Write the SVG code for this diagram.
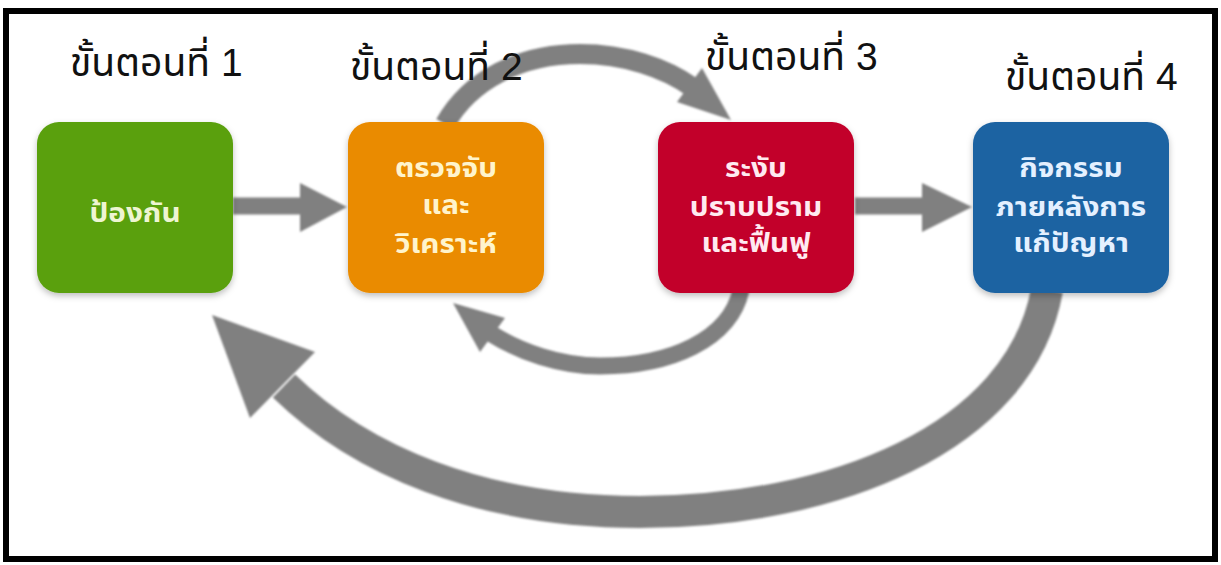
<svg xmlns="http://www.w3.org/2000/svg" width="1221" height="565" viewBox="0 0 1221 565">
<style>
.title{font-family:"Liberation Sans","Noto Sans Thai","Noto Sans Thai UI","Noto Sans",sans-serif;font-size:39px;fill:#111}
.lbl{font-family:"Liberation Sans","Noto Sans Thai","Noto Sans Thai UI","Noto Sans",sans-serif;font-size:27px;font-weight:bold;text-anchor:middle}
.shaft{fill:none;stroke:#808080;stroke-linecap:butt}
.head{fill:#808080}
</style>
<defs>
<filter id="sh" x="-10%" y="-10%" width="120%" height="125%">
<feDropShadow dx="0" dy="3" stdDeviation="3" flood-color="#000" flood-opacity="0.25"/>
</filter>
<filter id="blur" x="-5%" y="-5%" width="110%" height="115%">
<feGaussianBlur stdDeviation="0.8"/>
</filter>
</defs>
<rect x="0" y="0" width="1221" height="565" fill="#fff"/>
<rect x="6" y="11" width="1209" height="548" fill="none" stroke="#000" stroke-width="6"/>

<g id="connectors" filter="url(#blur)">
<path class="shaft" d="M233 206 H302" stroke-width="17"/>
<polygon class="head" points="300,183 347,207 300,232"/>
<path class="shaft" d="M855 206 H924" stroke-width="17"/>
<polygon class="head" points="922,183 972,207 922,232"/>
<path class="shaft" d="M445 124 C470 80 520 54 580 54 C625 54 665 68 692 87" stroke-width="20"/>
<polygon class="head" points="677,102 702,68 731,120"/>
<path class="shaft" d="M741 290 C730 340 670 366 600 366 C560 366 520 352 490 333" stroke-width="17"/>
<polygon class="head" points="453,303 505,318 480,352"/>
<path class="shaft" d="M1047 290 C1020 440 830 512 640 512 C480 512 360 460 284 386" stroke-width="32"/>
<polygon class="head" points="212,315 315,352 250,418"/>
</g>

<g id="step1">
<text class="title" x="70" y="76">ขั้นตอนที่ 1</text>
<rect x="37" y="122" width="196" height="171" rx="22" fill="#5aa00e" filter="url(#sh)"/>
<text class="lbl" transform="translate(135 0) scale(1.1 1)" x="0" y="222" fill="#eef5d2">ป้องกัน</text>
</g>
<g id="step2">
<text class="title" x="350" y="80">ขั้นตอนที่ 2</text>
<rect x="348" y="122" width="196" height="171" rx="22" fill="#ea8b00" filter="url(#sh)"/>
<g transform="translate(446 0) scale(1.1 1)" fill="#fff4cc">
<text class="lbl" x="0" y="177">ตรวจจับ</text>
<text class="lbl" x="0" y="214">และ</text>
<text class="lbl" x="0" y="253">วิเคราะห์</text>
</g>
</g>
<g id="step3">
<text class="title" x="705" y="70">ขั้นตอนที่ 3</text>
<rect x="658" y="122" width="196" height="171" rx="22" fill="#c2012b" filter="url(#sh)"/>
<g transform="translate(756 0) scale(1.1 1)" fill="#ffeaf0">
<text class="lbl" x="0" y="177">ระงับ</text>
<text class="lbl" x="0" y="216">ปราบปราม</text>
<text class="lbl" x="0" y="252">และฟื้นฟู</text>
</g>
</g>
<g id="step4">
<text class="title" x="1005" y="90">ขั้นตอนที่ 4</text>
<rect x="973" y="122" width="196" height="171" rx="22" fill="#1e63a2" filter="url(#sh)"/>
<g transform="translate(1071 0) scale(1.1 1)" fill="#e4f0ff">
<text class="lbl" x="0" y="177">กิจกรรม</text>
<text class="lbl" x="0" y="216">ภายหลังการ</text>
<text class="lbl" x="0" y="252">แก้ปัญหา</text>
</g>
</g>
</svg>
